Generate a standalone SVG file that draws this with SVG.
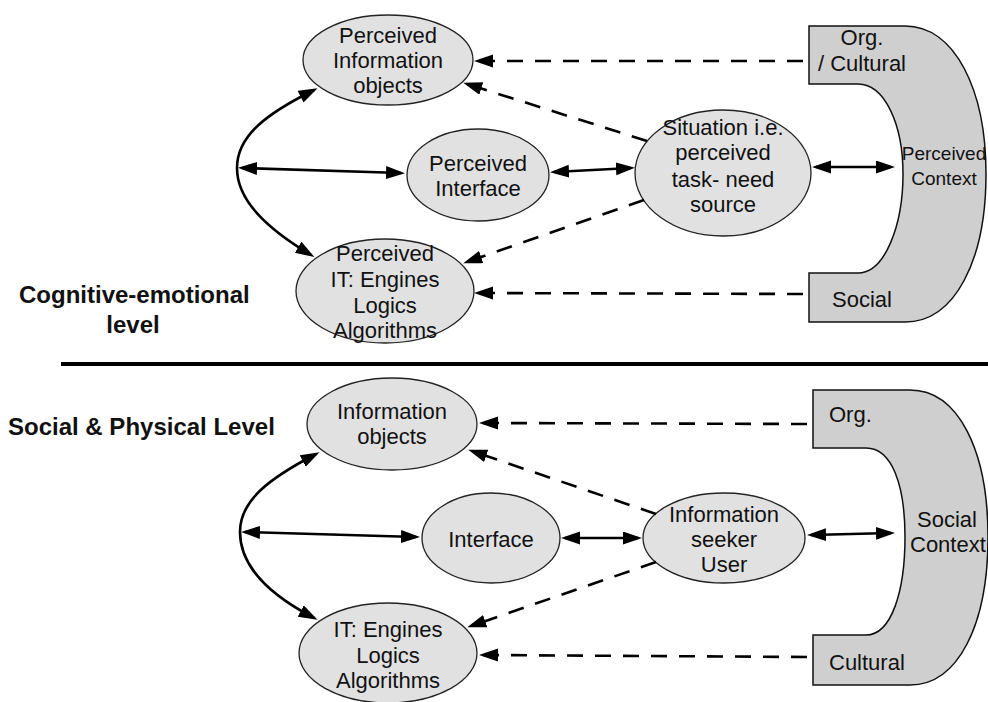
<svg xmlns="http://www.w3.org/2000/svg" width="988" height="702" viewBox="0 0 988 702">
  <style>
    .node ellipse { fill: #e1e1e1; stroke: #222; stroke-width: 1.3; }
    .ctx { fill: #cfcfcf; stroke: #111; stroke-width: 1.5; }
    text { font-family: "Liberation Sans", Arial, Helvetica, sans-serif; fill: #111; }
    .lbl { font-size: 22px; text-anchor: middle; }
    .lbl-l { font-size: 22px; }
    .small { font-size: 19px; text-anchor: middle; }
    .level { font-size: 24px; font-weight: bold; }
    .solid { fill: none; stroke: #000; stroke-width: 2.6; }
    .dash { fill: none; stroke: #000; stroke-width: 2.6; stroke-dasharray: 16 12; }
    .arr-end { marker-end: url(#head); }
    .arr-both { marker-start: url(#head); marker-end: url(#head); }
  </style>
  <defs>
    <marker id="head" markerUnits="userSpaceOnUse" markerWidth="20" markerHeight="14" refX="15" refY="6.5" orient="auto-start-reverse">
      <path d="M0,0 L19,6.5 L0,13 Z" fill="#000"/>
    </marker>
  </defs>

  <rect width="988" height="702" fill="#fff"/>

  <!-- level captions and divider -->
  <g id="levels">
    <text class="level" x="19" y="303">Cognitive-emotional</text>
    <text class="level" x="133" y="333" text-anchor="middle">level</text>
    <line x1="61" y1="364" x2="988" y2="364" stroke="#000" stroke-width="4"/>
    <text class="level" x="8" y="435">Social &amp; Physical Level</text>
  </g>

  <!-- upper level nodes -->
  <g id="p-info-objects" class="node">
    <ellipse cx="388" cy="60" rx="85" ry="45"/>
    <text class="lbl" x="388" y="43">Perceived</text>
    <text class="lbl" x="388" y="68">Information</text>
    <text class="lbl" x="388" y="93">objects</text>
  </g>
  <g id="p-interface" class="node">
    <ellipse cx="478" cy="175" rx="71" ry="46"/>
    <text class="lbl" x="478" y="171">Perceived</text>
    <text class="lbl" x="478" y="196">Interface</text>
  </g>
  <g id="p-it" class="node">
    <ellipse cx="385" cy="291" rx="89" ry="52"/>
    <text class="lbl" x="385" y="261">Perceived</text>
    <text class="lbl" x="385" y="287">IT: Engines</text>
    <text class="lbl" x="385" y="313">Logics</text>
    <text class="lbl" x="385" y="338">Algorithms</text>
  </g>
  <g id="situation" class="node">
    <ellipse cx="723" cy="173" rx="88" ry="63"/>
    <text class="lbl" x="723" y="135">Situation i.e.</text>
    <text class="lbl" x="723" y="160">perceived</text>
    <text class="lbl" x="723" y="187">task- need</text>
    <text class="lbl" x="723" y="212">source</text>
  </g>
  <g id="perceived-context">
    <path class="ctx" d="M809,26 H905 C955,26 986,90 986,174 C986,260 955,322 905,322 H809 V273 H858 C885,273 903,225 903,174 C903,125 885,84 858,84 H809 Z"/>
    <text class="lbl" x="862" y="45">Org.</text>
    <text class="lbl" x="862" y="71">/ Cultural</text>
    <text class="small" x="944" y="160">Perceived</text>
    <text class="small" x="944" y="185">Context</text>
    <text class="lbl" x="862" y="307">Social</text>
  </g>

  <!-- lower level nodes -->
  <g id="info-objects" class="node">
    <ellipse cx="392" cy="424" rx="85" ry="46"/>
    <text class="lbl" x="392" y="419">Information</text>
    <text class="lbl" x="392" y="444">objects</text>
  </g>
  <g id="interface" class="node">
    <ellipse cx="491" cy="538" rx="69" ry="45"/>
    <text class="lbl" x="491" y="547">Interface</text>
  </g>
  <g id="it" class="node">
    <ellipse cx="388" cy="653" rx="89" ry="50"/>
    <text class="lbl" x="388" y="637">IT: Engines</text>
    <text class="lbl" x="388" y="663">Logics</text>
    <text class="lbl" x="388" y="688">Algorithms</text>
  </g>
  <g id="seeker" class="node">
    <ellipse cx="724" cy="538" rx="81" ry="45"/>
    <text class="lbl" x="724" y="522">Information</text>
    <text class="lbl" x="724" y="547">seeker</text>
    <text class="lbl" x="724" y="572">User</text>
  </g>
  <g id="social-context">
    <path class="ctx" d="M813,390 H910 C958,390 988,450 988,537 C988,625 958,685 910,685 H813 V635 H866 C892,635 905,590 905,537 C905,485 892,448 866,448 H813 Z"/>
    <text class="lbl-l" x="829" y="422">Org.</text>
    <text class="lbl" x="947" y="527">Social</text>
    <text class="lbl-l" x="910" y="552">Context</text>
    <text class="lbl-l" x="829" y="670">Cultural</text>
  </g>

  <!-- connectors -->
  <g id="connectors">
    <!-- upper level -->
    <path class="dash arr-end" d="M803,61 L478,61"/>
    <path class="dash arr-end" d="M647,141 L467,84"/>
    <path class="solid arr-both" d="M554,172 L631,168"/>
    <path class="dash arr-end" d="M644,200 L467,262"/>
    <path class="dash arr-end" d="M803,294 L478,293"/>
    <path class="solid arr-both" d="M816,167 L891,167"/>
    <path class="solid arr-both" d="M314,90 C268,113 237,135 237,168 C237,200 266,228 311,255"/>
    <path class="solid arr-both" d="M242,168 L401,173"/>
    <!-- lower level -->
    <path class="dash arr-end" d="M807,424 L483,423"/>
    <path class="dash arr-end" d="M656,514 L472,451"/>
    <path class="solid arr-both" d="M565,538 L638,538"/>
    <path class="dash arr-end" d="M656,562 L471,626"/>
    <path class="dash arr-end" d="M807,657 L483,655"/>
    <path class="solid arr-both" d="M811,535 L891,533"/>
    <path class="solid arr-both" d="M316,454 C270,478 240,500 240,532 C240,565 268,594 314,618"/>
    <path class="solid arr-both" d="M245,532 L416,537"/>
  </g>
</svg>
